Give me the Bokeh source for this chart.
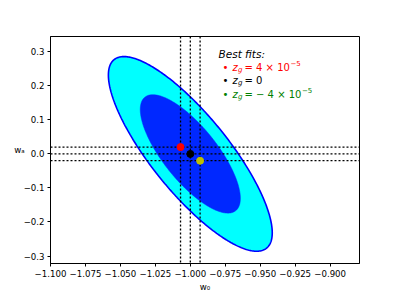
import numpy as np
from bokeh.plotting import figure
from bokeh.models import Range1d, Span, Label, FixedTicker, CustomJSTickFormatter
from bokeh.embed import file_html
from bokeh.resources import INLINE

# ---- data ----
center_w0 = -1.0
center_wa = 0.0
contour_levels = ["95%", "68%"]
half_extent_w0 = [0.0586, 0.0358]
half_extent_wa = [0.286, 0.174]
correlation = [-0.81, -0.75]
contour_fill = ["#00ffff", "#0028ff"]
contour_line = ["#0000ff", None]

fit_w0 = [-1.007, -1.0, -0.993]
fit_wa = [0.02, 0.0, -0.02]
fit_colors = ["#ff0000", "#000000", "#bfbf00"]

legend_title = "Best fits:"
legend_values = ["4 × 10", "0", "− 4 × 10"]
legend_sup = ["−5", "", "−5"]
legend_colors = ["#ff0000", "#000000", "#008000"]

x_ticks = [-1.1, -1.075, -1.05, -1.025, -1.0, -0.975, -0.95, -0.925, -0.9]
y_ticks = [-0.3, -0.2, -0.1, 0.0, 0.1, 0.2, 0.3]
x_range = (-1.1, -0.879)
y_range = (-0.322, 0.345)

FONT = "DejaVu Sans"

# ---- figure geometry (frame in picture pixels: x 50..359, y 36..266) ----
W, H = 391, 294
p = figure(width=W, height=H, output_backend="svg", toolbar_location=None,
           x_range=Range1d(*x_range), y_range=Range1d(*y_range),
           min_border_left=50, min_border_right=32, min_border_top=36,
           min_border_bottom=28)
p.background_fill_color = "white"
p.border_fill_color = "white"
p.outline_line_color = "black"
p.outline_line_width = 1
p.grid.visible = False

FX0, FX1, FY0, FY1 = 50.0, 359.0, 36.0, 266.0


def pg(xp, yp):
    """picture pixel -> data coordinates (for text placement only)"""
    x = x_range[0] + (xp - FX0) / (FX1 - FX0) * (x_range[1] - x_range[0])
    y = y_range[1] - (yp - FY0) / (FY1 - FY0) * (y_range[1] - y_range[0])
    return x, y


# ---- contours ----
t = np.linspace(0, 2 * np.pi, 400)
for a, b, r, fc, lc in zip(half_extent_w0, half_extent_wa, correlation,
                           contour_fill, contour_line):
    xs = center_w0 + a * np.cos(t)
    ys = center_wa + b * (r * np.cos(t) + np.sqrt(1 - r * r) * np.sin(t))
    if lc:
        p.patch(xs, ys, fill_color=fc, line_color=lc, line_width=1.6)
    else:
        p.patch(xs, ys, fill_color=fc, line_color=fc, line_width=0.5)

# ---- dotted lines ----
for xv in fit_w0:
    p.add_layout(Span(location=xv, dimension="height", line_color="black",
                      line_dash="2 2", line_width=1.3))
for yv in fit_wa:
    p.add_layout(Span(location=yv, dimension="width", line_color="black",
                      line_dash="2 2", line_width=1.3))

# ---- best-fit points ----
pts = p.scatter(fit_w0, fit_wa, size=7, fill_color=fit_colors,
                line_color=fit_colors)
pts.level = "overlay"

# ---- axes ----
for ax in (p.xaxis[0], p.yaxis[0]):
    ax.axis_line_color = "black"
    ax.axis_line_width = 1
    ax.major_tick_line_color = "black"
    ax.major_tick_in = 0
    ax.major_tick_out = 3
    ax.minor_tick_line_color = None
    ax.major_label_text_font = FONT
    ax.major_label_text_font_size = "8.6px"
    ax.major_label_text_color = "black"
    ax.major_label_standoff = 3
    ax.axis_label_text_font = FONT
    ax.axis_label_text_font_size = "8.6px"
    ax.axis_label_text_font_style = "normal"
    ax.axis_label_text_color = "black"
p.xaxis[0].ticker = FixedTicker(ticks=x_ticks)
p.yaxis[0].ticker = FixedTicker(ticks=y_ticks)
p.xaxis[0].formatter = CustomJSTickFormatter(
    code="return tick.toFixed(3).replace('-', '\u2212');")
p.yaxis[0].formatter = CustomJSTickFormatter(
    code="var s = tick.toFixed(1); if (s == '-0.0') s = '0.0'; return s.replace('-', '\u2212');")

p.xaxis[0].axis_label = "w₀"
p.xaxis[0].axis_label_standoff = 2
p.yaxis[0].axis_label = "wₐ"
p.yaxis[0].axis_label_standoff = -4
if "axis_label_orientation" in p.yaxis[0].properties():
    p.yaxis[0].axis_label_orientation = "horizontal"

# ---- legend text ----
x, y = pg(218, 54)
p.add_layout(Label(x=x, y=y, text=legend_title, text_font=FONT,
                   text_font_size="10.5px", text_font_style="italic",
                   text_align="left", text_baseline="alphabetic",
                   text_color="black"))

baselines = [67.5, 81, 94.5]
sup_x = [290, None, 301.5]
for i in range(3):
    base = baselines[i]
    col = legend_colors[i]

    def lab(xp, yp, txt, size, style="normal", align="left"):
        xx, yy = pg(xp, yp)
        p.add_layout(Label(x=xx, y=yy, text=txt, text_font=FONT,
                           text_font_size=size, text_font_style=style,
                           text_align=align, text_baseline="alphabetic",
                           text_color=col))

    lab(225, base, "•", "10px", align="center")
    lab(232, base, "z", "10px", style="italic")
    lab(237.4, base + 2.3, "g", "7px", style="italic")
    lab(244, base, "= " + legend_values[i], "10px")
    if legend_sup[i]:
        lab(sup_x[i], base - 4.2, legend_sup[i], "7px")

open("out.html", "w").write(file_html(p, INLINE))
